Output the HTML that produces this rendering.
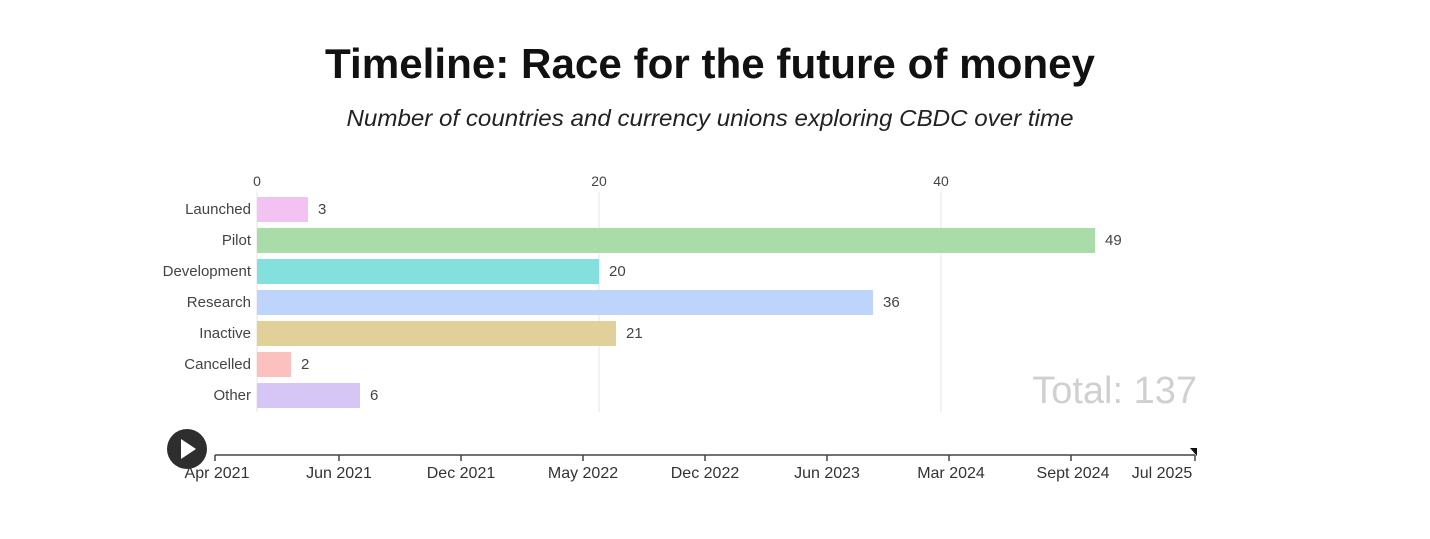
<!DOCTYPE html>
<html><head><style>
body{margin:0;width:1430px;height:534px;background:#fff;font-family:"Liberation Sans",sans-serif;overflow:hidden}
svg text{font-family:"Liberation Sans",sans-serif}
</style></head><body>
<svg width="1430" height="534" xmlns="http://www.w3.org/2000/svg">
<text x="710" y="78" text-anchor="middle" font-size="42" font-weight="bold" fill="#111" textLength="770" lengthAdjust="spacingAndGlyphs">Timeline: Race for the future of money</text>
<text x="710" y="126" text-anchor="middle" font-size="23" font-style="italic" fill="#222" textLength="727" lengthAdjust="spacingAndGlyphs">Number of countries and currency unions exploring CBDC over time</text>
<g stroke="#e4e4e4" stroke-width="1">
<line x1="257" y1="192" x2="257" y2="412"/><line x1="599" y1="192" x2="599" y2="412"/><line x1="941" y1="192" x2="941" y2="412"/>
</g>
<g font-size="14" fill="#444" text-anchor="middle">
<text x="257" y="186">0</text><text x="599" y="186">20</text><text x="941" y="186">40</text>
</g>
<g>
<rect x="257" y="197" width="51" height="25" fill="#f2c3f2"/>
<rect x="257" y="228" width="838" height="25" fill="#aadcaa"/>
<rect x="257" y="259" width="342" height="25" fill="#84e0dc"/>
<rect x="257" y="290" width="616" height="25" fill="#bdd4fb"/>
<rect x="257" y="321" width="359" height="25" fill="#e2d09a"/>
<rect x="257" y="352" width="34" height="25" fill="#fcc0bf"/>
<rect x="257" y="383" width="103" height="25" fill="#d5c6f6"/>
</g>
<g font-size="15" fill="#444" text-anchor="end">
<text x="251" y="214">Launched</text><text x="251" y="245">Pilot</text><text x="251" y="276">Development</text>
<text x="251" y="307">Research</text><text x="251" y="338">Inactive</text><text x="251" y="369">Cancelled</text><text x="251" y="400">Other</text>
</g>
<g font-size="15" fill="#444">
<text x="318" y="214">3</text><text x="1105" y="245">49</text><text x="609" y="276">20</text>
<text x="883" y="307">36</text><text x="626" y="338">21</text><text x="301" y="369">2</text><text x="370" y="400">6</text>
</g>
<text x="1197" y="403" text-anchor="end" font-size="38" fill="#d0d0d0">Total: 137</text>
<line x1="215" y1="455" x2="1195" y2="455" stroke="#444" stroke-width="1.5"/>
<g stroke="#444" stroke-width="1.5">
<line x1="215" y1="455" x2="215" y2="461"/><line x1="339" y1="455" x2="339" y2="461"/><line x1="461" y1="455" x2="461" y2="461"/>
<line x1="583" y1="455" x2="583" y2="461"/><line x1="705" y1="455" x2="705" y2="461"/><line x1="827" y1="455" x2="827" y2="461"/>
<line x1="949" y1="455" x2="949" y2="461"/><line x1="1071" y1="455" x2="1071" y2="461"/><line x1="1195" y1="455" x2="1195" y2="461"/>
</g>
<polygon points="1190,448 1197,448 1197,456" fill="#111"/>
<g font-size="16" fill="#333" text-anchor="middle">
<text x="217" y="478">Apr 2021</text><text x="339" y="478">Jun 2021</text><text x="461" y="478">Dec 2021</text>
<text x="583" y="478">May 2022</text><text x="705" y="478">Dec 2022</text><text x="827" y="478">Jun 2023</text>
<text x="951" y="478">Mar 2024</text><text x="1073" y="478">Sept 2024</text><text x="1162" y="478">Jul 2025</text>
</g>
<circle cx="187" cy="449" r="20" fill="#2e2e2e"/>
<polygon points="181,439 181,459 196,449" fill="#fff"/>
</svg>
</body></html>
